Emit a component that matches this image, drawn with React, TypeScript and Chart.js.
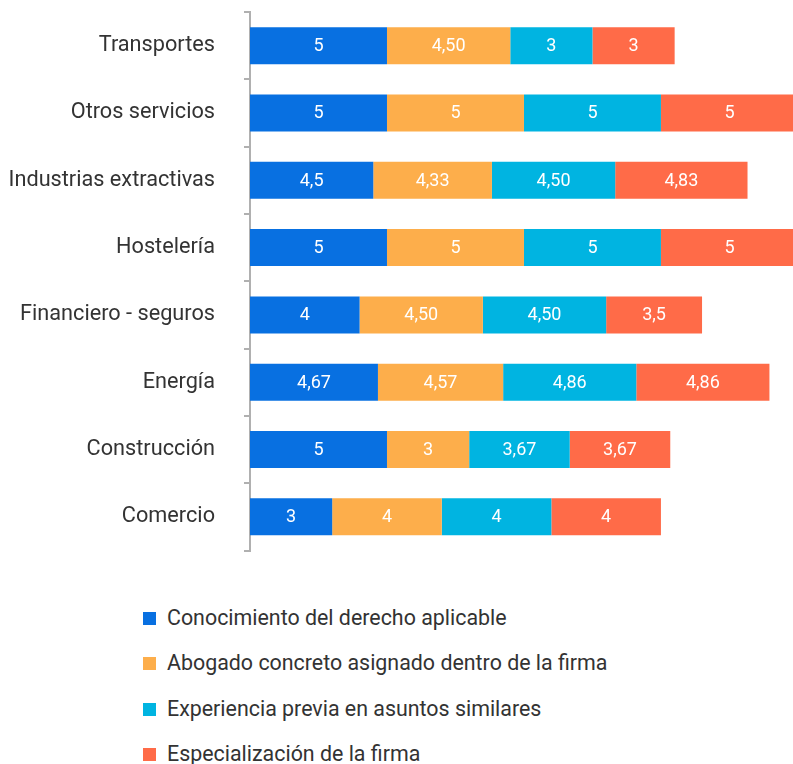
import React, { useEffect, useRef } from "react";
import { Chart, registerables } from "chart.js";

Chart.register(...registerables);

const categories = [
  "Transportes",
  "Otros servicios",
  "Industrias extractivas",
  "Hostelería",
  "Financiero - seguros",
  "Energía",
  "Construcción",
  "Comercio",
];

const seriesNames = [
  "Conocimiento del derecho aplicable",
  "Abogado concreto asignado dentro de la firma",
  "Experiencia previa en asuntos similares",
  "Especialización de la firma",
];

const conocimiento = [5, 5, 4.5, 5, 4, 4.67, 5, 3];
const abogado = [4.5, 5, 4.33, 5, 4.5, 4.57, 3, 4];
const experiencia = [3, 5, 4.5, 5, 4.5, 4.86, 3.67, 4];
const especializacion = [3, 5, 4.83, 5, 3.5, 4.86, 3.67, 4];

const conocimientoLabels = ["5", "5", "4,5", "5", "4", "4,67", "5", "3"];
const abogadoLabels = ["4,50", "5", "4,33", "5", "4,50", "4,57", "3", "4"];
const experienciaLabels = ["3", "5", "4,50", "5", "4,50", "4,86", "3,67", "4"];
const especializacionLabels = ["3", "5", "4,83", "5", "3,5", "4,86", "3,67", "4"];

const colors = ["#0870e1", "#fdae4b", "#00b4e1", "#ff6b48"];

const FONT = "Roboto, 'Noto Sans', sans-serif";

const valueLabelPlugin = {
  id: "valueLabels",
  afterDatasetsDraw(chart: any) {
    const ctx = chart.ctx;
    const area = chart.chartArea;
    ctx.save();
    ctx.beginPath();
    ctx.rect(area.left, area.top, area.right - area.left, area.bottom - area.top);
    ctx.clip();
    ctx.fillStyle = "#ffffff";
    ctx.font = `18px ${FONT}`;
    ctx.textAlign = "center";
    ctx.textBaseline = "middle";
    chart.data.datasets.forEach((ds: any, i: number) => {
      const meta = chart.getDatasetMeta(i);
      meta.data.forEach((el: any, j: number) => {
        const cx = (el.x + el.base) / 2;
        ctx.fillText(ds.valueLabels[j], cx, el.y + 1);
      });
    });
    ctx.restore();
  },
};

export default function App() {
  const canvasRef = useRef<HTMLCanvasElement | null>(null);

  useEffect(() => {
    if (!canvasRef.current) return;
    const values = [conocimiento, abogado, experiencia, especializacion];
    const labels = [conocimientoLabels, abogadoLabels, experienciaLabels, especializacionLabels];
    const chart = new Chart(canvasRef.current, {
      type: "bar",
      data: {
        labels: categories,
        datasets: seriesNames.map((name, i) => ({
          label: name,
          data: values[i],
          backgroundColor: colors[i],
          borderWidth: 0,
          barPercentage: 0.55,
          categoryPercentage: 1,
          valueLabels: labels[i],
        })) as any,
      },
      options: {
        indexAxis: "y",
        animation: false,
        responsive: false,
        maintainAspectRatio: false,
        layout: { padding: { top: 12, bottom: 9.5, left: 0, right: 0 } },
        plugins: {
          legend: { display: false },
          tooltip: { enabled: false },
        },
        scales: {
          x: {
            stacked: true,
            display: false,
            min: 0,
            max: 19.82,
          },
          y: {
            stacked: true,
            afterFit: (scale: any) => {
              scale.width = 250;
              scale.paddingTop = 0;
              scale.paddingBottom = 0;
            },
            grid: {
              drawOnChartArea: false,
              drawTicks: true,
              tickLength: 6,
              color: "#b0b0b0",
              lineWidth: 2,
              offset: true,
            },
            border: { display: true, color: "#b0b0b0", width: 2 },
            ticks: {
              padding: 29,
              color: "#333333",
              font: { family: FONT, size: 21.7 },
            },
          },
        },
      } as any,
      plugins: [valueLabelPlugin],
    });
    return () => chart.destroy();
  }, []);

  const legendTops = [618, 663, 709, 754];

  return (
    <div
      style={{
        position: "fixed",
        left: 0,
        top: 0,
        width: 793,
        height: 764,
        background: "#ffffff",
        overflow: "hidden",
        fontFamily: FONT,
      }}
    >
      <canvas ref={canvasRef} width={793} height={560} style={{ display: "block" }} />
      {seriesNames.map((name, i) => (
        <div
          key={name}
          style={{
            position: "absolute",
            left: 143,
            top: legendTops[i] - 14,
            height: 28,
            display: "flex",
            alignItems: "center",
            whiteSpace: "nowrap",
          }}
        >
          <span
            style={{
              display: "inline-block",
              width: 13,
              height: 13,
              background: colors[i],
              marginRight: 11,
            }}
          />
          <span style={{ fontSize: 21.4, color: "#333333", lineHeight: "28px" }}>{name}</span>
        </div>
      ))}
    </div>
  );
}
